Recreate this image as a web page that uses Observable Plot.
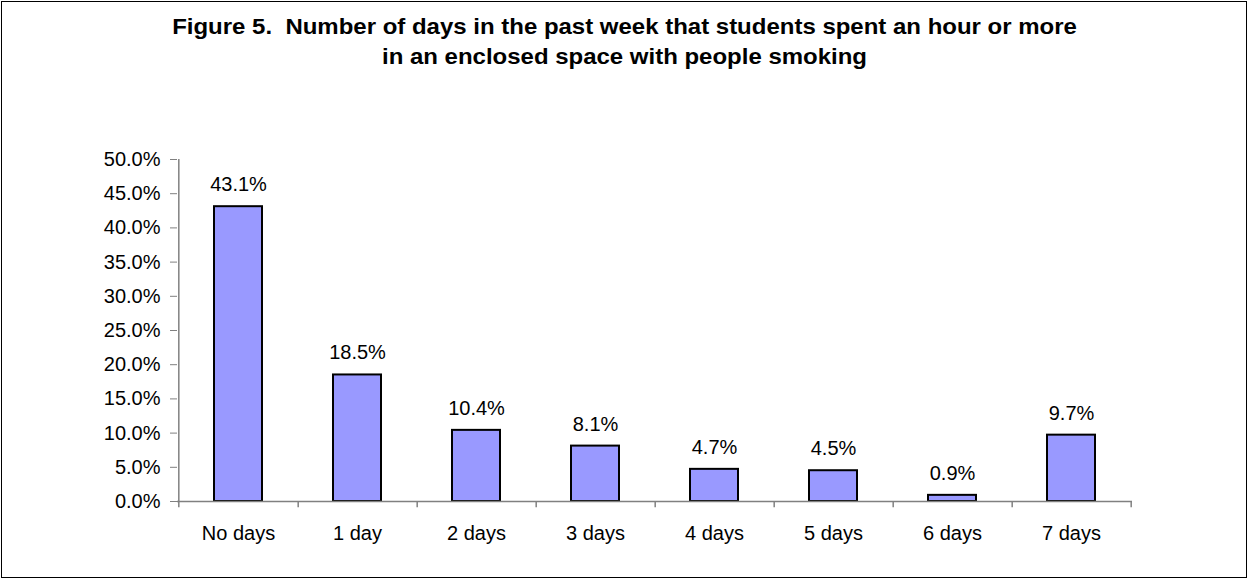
<!DOCTYPE html>
<html>
<head>
<meta charset="utf-8">
<script src="https://cdn.jsdelivr.net/npm/d3@7"></script>
<script src="https://cdn.jsdelivr.net/npm/@observablehq/plot@0.6"></script>
<style>
  html, body { margin: 0; padding: 0; background: #fff; }
  #wrap { position: relative; width: 1249px; height: 579px; overflow: hidden; font-family: "Liberation Sans", Arial, sans-serif; }
  #box { position: absolute; left: 1px; top: 1px; width: 1244px; height: 575px; border: 1px solid #000; }
  #title { position: absolute; left: 0; top: 12px; width: 1249px; text-align: center; font-weight: bold; font-size: 22px; line-height: 30px; color: #000; transform: scaleX(1.09); transform-origin: 624.5px 0; }
  #chart { position: absolute; left: 0; top: 100px; }
</style>
</head>
<body>
<div id="wrap">
  <div id="box"></div>
  <div id="title">Figure 5.&nbsp; Number of days in the past week that students spent an hour or more<br>in an enclosed space with people smoking</div>
  <div id="chart"></div>
</div>
<script>
const categories = ["No days", "1 day", "2 days", "3 days", "4 days", "5 days", "6 days", "7 days"];
const values = [43.1, 18.5, 10.4, 8.1, 4.7, 4.5, 0.9, 9.7];
const yTicks = [0, 5, 10, 15, 20, 25, 30, 35, 40, 45, 50];

const data = categories.map((c, i) => ({category: c, value: values[i]}));

const W = 1249, H = 460, ML = 177, MR = 117, MT = 59, MB = 59;
const step = (W - ML - MR) / categories.length;
const tickDown = 0.9; // small tick below axis, in data units
const fmt = v => v.toFixed(1) + "%";

const plot = Plot.plot({
  width: W,
  height: H,
  marginLeft: ML,
  marginRight: MR,
  marginTop: MT,
  marginBottom: MB,
  style: {fontFamily: "'Liberation Sans', Arial, sans-serif", fontSize: "20px", color: "#000", background: "transparent", overflow: "visible"},
  x: {domain: categories, paddingInner: 0.6, paddingOuter: 0.3, axis: null},
  y: {domain: [0, 50], axis: null},
  marks: [
    Plot.barY(data, {x: "category", y: "value", fill: "#9999FF", stroke: "#000", strokeWidth: 2}),
    Plot.ruleY([0], {stroke: "#808080", strokeWidth: 1.5}),
    // left y-axis line (also first category boundary tick)
    Plot.ruleX([categories[0]], {x: d => d, dx: -step / 2, y1: -tickDown, y2: 50, stroke: "#808080", strokeWidth: 1.5}),
    // category boundary ticks
    Plot.ruleX(categories, {x: d => d, dx: step / 2, y1: -tickDown, y2: 0, stroke: "#808080", strokeWidth: 1.5}),
    // y ticks
    Plot.axisY({ticks: yTicks, tickFormat: fmt, tickSize: 7, tickPadding: 10, stroke: "#808080", fill: "#000", fontSize: 20, anchor: "left", label: null}),
    // category labels
    Plot.text(data, {x: "category", y: 0, dy: 32, text: "category", fill: "#000", fontSize: 20}),
    // value labels
    Plot.text(data, {x: "category", y: "value", dy: -22, text: d => fmt(d.value), fill: "#000", fontSize: 20})
  ]
});
document.getElementById("chart").appendChild(plot);
</script>
</body>
</html>
